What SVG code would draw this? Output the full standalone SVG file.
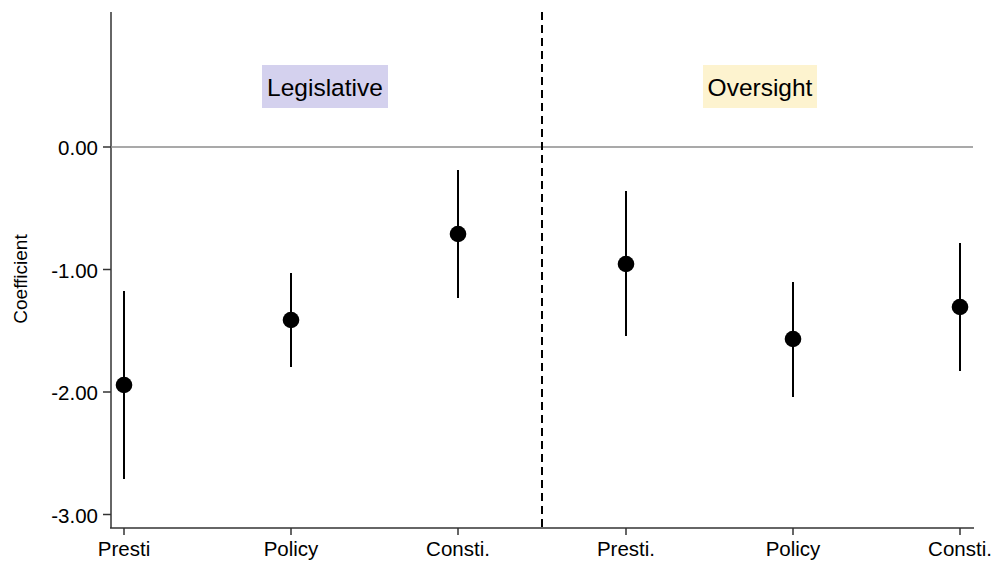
<svg xmlns="http://www.w3.org/2000/svg" width="997" height="566" viewBox="0 0 997 566">
<style>
text{font-family:"Liberation Sans",Arial,sans-serif;fill:#000}
.tl{font-size:20.5px;text-anchor:end}
.xl{font-size:20.5px;text-anchor:middle}
.axis{stroke:#333;stroke-width:1.5;fill:none}
.ci{stroke:#000;stroke-width:2}
.pt{fill:#000}
</style>
<rect width="997" height="566" fill="#fff"/>
<g id="axes">
<line class="axis" x1="111" y1="12" x2="111" y2="528"/>
<line class="axis" x1="110" y1="528" x2="974" y2="528"/>
<line class="axis" x1="103" y1="147" x2="111" y2="147"/>
<line class="axis" x1="103" y1="269.5" x2="111" y2="269.5"/>
<line class="axis" x1="103" y1="392" x2="111" y2="392"/>
<line class="axis" x1="103" y1="514.5" x2="111" y2="514.5"/>
<text class="tl" x="98" y="155">0.00</text>
<text class="tl" x="98" y="277.5">-1.00</text>
<text class="tl" x="98" y="400">-2.00</text>
<text class="tl" x="98" y="522.5">-3.00</text>
<text font-size="19" text-anchor="middle" transform="translate(27 279) rotate(-90)">Coefficient</text>
<line class="axis" x1="124" y1="528" x2="124" y2="535"/>
<line class="axis" x1="291" y1="528" x2="291" y2="535"/>
<line class="axis" x1="458" y1="528" x2="458" y2="535"/>
<line class="axis" x1="626" y1="528" x2="626" y2="535"/>
<line class="axis" x1="793" y1="528" x2="793" y2="535"/>
<line class="axis" x1="960" y1="528" x2="960" y2="535"/>
<text class="xl" x="124" y="556">Presti</text>
<text class="xl" x="291" y="556">Policy</text>
<text class="xl" x="458" y="556">Consti.</text>
<text class="xl" x="626" y="556">Presti.</text>
<text class="xl" x="793" y="556">Policy</text>
<text class="xl" x="960" y="556">Consti.</text>
</g>
<g id="refs">
<line x1="111" y1="147" x2="973" y2="147" stroke="#8c8c8c" stroke-width="1.6"/>
<line x1="542" y1="12" x2="542" y2="528" stroke="#000" stroke-width="2" stroke-dasharray="8,5"/>
</g>
<g id="label-legislative">
<rect x="262" y="65" width="126" height="43" fill="#d4d1ee"/>
<text x="325" y="96" font-size="24.5" text-anchor="middle">Legislative</text>
</g>
<g id="label-oversight">
<rect x="703" y="65" width="114" height="43" fill="#fdf3cf"/>
<text x="760" y="96" font-size="24.5" text-anchor="middle">Oversight</text>
</g>
<g id="connectors">
<line class="ci" x1="124" y1="291" x2="124" y2="479"/>
<line class="ci" x1="291" y1="273" x2="291" y2="367"/>
<line class="ci" x1="458" y1="170" x2="458" y2="298"/>
<line class="ci" x1="626" y1="191" x2="626" y2="336"/>
<line class="ci" x1="793" y1="282" x2="793" y2="397"/>
<line class="ci" x1="960" y1="243" x2="960" y2="371"/>
</g>
<g id="p1"><circle class="pt" cx="124" cy="385" r="8.3"/></g>
<g id="p2"><circle class="pt" cx="291" cy="320" r="8.3"/></g>
<g id="p3"><circle class="pt" cx="458" cy="234" r="8.3"/></g>
<g id="p4"><circle class="pt" cx="626" cy="264" r="8.3"/></g>
<g id="p5"><circle class="pt" cx="793" cy="339" r="8.3"/></g>
<g id="p6"><circle class="pt" cx="960" cy="307" r="8.3"/></g>
</svg>
